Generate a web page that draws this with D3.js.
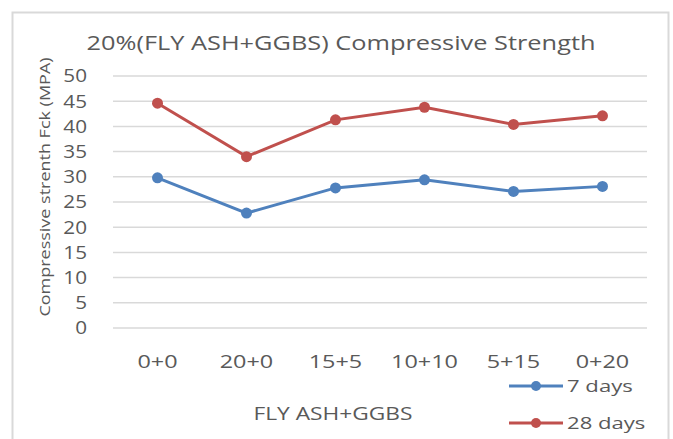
<!DOCTYPE html>
<meta charset="utf-8">
<script src="https://d3js.org/d3.v7.min.js"></script>
<style>
  body { margin: 0; background: #fff; }
  text { font-family: "Open Sans", "Liberation Sans", sans-serif; fill: #595959; }
</style>
<body>
<div id="chart"></div>
<script>
  // data
  const categories = ["0+0", "20+0", "15+5", "10+10", "5+15", "0+20"];
  const days7 = [29.8, 22.8, 27.8, 29.4, 27.1, 28.1];
  const days28 = [44.6, 34.0, 41.3, 43.8, 40.4, 42.1];
  const yTicks = [0, 5, 10, 15, 20, 25, 30, 35, 40, 45, 50];
  const seriesNames = ["7 days", "28 days"];
  const seriesColors = ["#4f81bd", "#c0504d"];

  const width = 673, height = 439;
  const plot = {left: 113, right: 647, top: 76, bottom: 328};
  const stretch = 1.3;   // the original text looks widened horizontally

  const svg = d3.select("#chart").append("svg")
      .attr("width", width)
      .attr("height", height);

  // chart area border
  svg.append("rect")
      .attr("x", 12.5).attr("y", 12.5)
      .attr("width", 656).attr("height", 440)
      .attr("fill", "#fff")
      .attr("stroke", "#d9d9d9")
      .attr("stroke-width", 2);

  const x = d3.scaleBand().domain(categories).range([plot.left, plot.right]);
  const y = d3.scaleLinear().domain([0, 50]).range([plot.bottom, plot.top]);
  const cx = d => x(d) + x.bandwidth() / 2;

  // gridlines
  svg.append("g")
    .selectAll("line")
    .data(yTicks)
    .join("line")
      .attr("x1", plot.left).attr("x2", plot.right)
      .attr("y1", d => y(d)).attr("y2", d => y(d))
      .attr("stroke", "#d9d9d9")
      .attr("stroke-width", 1.5);

  // y tick labels
  svg.append("g")
    .selectAll("text")
    .data(yTicks)
    .join("text")
      .attr("transform", d => `translate(87,${y(d)}) scale(1.15,1)`)
      .attr("dy", "0.36em")
      .attr("text-anchor", "end")
      .style("font-size", "18px")
      .text(d => d);

  // x tick labels
  svg.append("g")
    .selectAll("text")
    .data(categories)
    .join("text")
      .attr("transform", d => `translate(${cx(d)},368) scale(${stretch},1)`)
      .attr("text-anchor", "middle")
      .style("font-size", "18px")
      .text(d => d);

  // titles
  svg.append("text")
      .attr("transform", `translate(341,50) scale(${stretch},1)`)
      .attr("text-anchor", "middle")
      .style("font-size", "19.5px")
      .text("20%(FLY ASH+GGBS) Compressive Strength");

  svg.append("text")
      .attr("transform", "translate(45,187) rotate(-90) scale(1.2,1)")
      .attr("text-anchor", "middle")
      .attr("dy", "0.35em")
      .style("font-size", "15px")
      .text("Compressive strenth Fck (MPA)");

  svg.append("text")
      .attr("transform", `translate(333,420) scale(${stretch},1)`)
      .attr("text-anchor", "middle")
      .style("font-size", "17.5px")
      .text("FLY ASH+GGBS");

  // lines and markers
  const line = d3.line()
      .x((d, i) => cx(categories[i]))
      .y(d => y(d));

  [days7, days28].forEach((vals, k) => {
    const g = svg.append("g");
    g.append("path")
        .datum(vals)
        .attr("fill", "none")
        .attr("stroke", seriesColors[k])
        .attr("stroke-width", 3)
        .attr("d", line);
    g.selectAll("circle")
      .data(vals)
      .join("circle")
        .attr("cx", (d, i) => cx(categories[i]))
        .attr("cy", d => y(d))
        .attr("r", 5.5)
        .attr("fill", seriesColors[k]);
  });

  // legend
  const legend = svg.append("g")
    .selectAll("g")
    .data(seriesNames)
    .join("g")
      .attr("transform", (d, i) => `translate(509,${386 + i * 37})`);
  legend.append("line")
      .attr("x1", 0).attr("x2", 54)
      .attr("stroke", (d, i) => seriesColors[i])
      .attr("stroke-width", 3);
  legend.append("circle")
      .attr("cx", 27).attr("r", 5)
      .attr("fill", (d, i) => seriesColors[i]);
  legend.append("text")
      .attr("transform", `translate(58,0) scale(${stretch},1)`)
      .attr("dy", "0.36em")
      .style("font-size", "17px")
      .text(d => d);
</script>
</body>
